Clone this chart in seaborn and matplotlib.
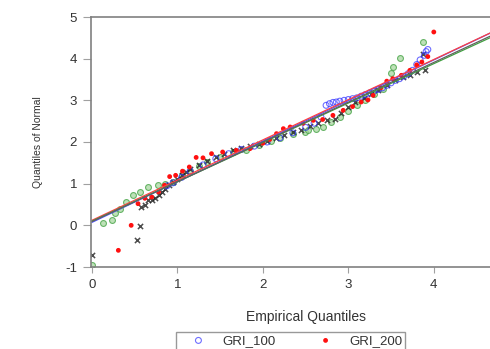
import numpy as np
import pandas as pd
import seaborn as sns
import matplotlib.pyplot as plt

# empirical quantiles (x) and normal quantiles (y)
gri100_x = [0.88, 0.95, 1.05, 1.15, 1.3, 1.45, 1.6, 1.75, 1.9, 2.05, 2.2, 2.35, 2.5, 2.6, 2.68,
            2.74, 2.78, 2.82, 2.86, 2.9, 2.95, 3.0, 3.05, 3.1, 3.15, 3.2, 3.25, 3.3, 3.35, 3.4,
            3.45, 3.5, 3.55, 3.6, 3.65, 3.7, 3.75, 3.8, 3.84, 3.89, 3.91, 3.93]
gri100_y = [0.95, 1.02, 1.15, 1.3, 1.45, 1.6, 1.72, 1.82, 1.9, 2.0, 2.1, 2.22, 2.35, 2.45, 2.6,
            2.88, 2.92, 2.95, 2.96, 2.98, 3.0, 3.02, 3.04, 3.06, 3.1, 3.14, 3.18, 3.22, 3.26, 3.3,
            3.36, 3.42, 3.48, 3.52, 3.58, 3.64, 3.72, 3.86, 3.97, 4.08, 4.17, 4.22]

gri200_x = [0.31, 0.46, 0.54, 0.62, 0.7, 0.78, 0.85, 0.91, 0.98, 1.06, 1.14, 1.22, 1.3, 1.4,
            1.53, 1.69, 1.85, 2.0, 2.08, 2.16, 2.24, 2.32, 2.47, 2.59, 2.7, 2.82, 2.94, 3.05,
            3.15, 3.23, 3.29, 3.38, 3.45, 3.52, 3.62, 3.72, 3.8, 3.86, 3.93, 4.0]
gri200_y = [-0.6, 0.0, 0.52, 0.65, 0.68, 0.8, 0.96, 1.17, 1.2, 1.3, 1.4, 1.63, 1.62, 1.72,
            1.76, 1.8, 1.84, 1.97, 2.06, 2.2, 2.32, 2.36, 2.45, 2.52, 2.54, 2.64, 2.76, 2.85,
            2.96, 3.01, 3.12, 3.3, 3.46, 3.52, 3.6, 3.72, 3.85, 3.92, 4.05, 4.64]

gri300_x = [0.0, 0.125, 0.23, 0.27, 0.33, 0.4, 0.48, 0.56, 0.66, 0.77, 0.85, 0.95, 1.05, 1.15,
            1.25, 1.35, 1.5, 1.65, 1.8, 1.95, 2.1, 2.2, 2.35, 2.49, 2.53, 2.62, 2.7, 2.8, 2.9,
            3.0, 3.1, 3.2, 3.3, 3.4, 3.5, 3.52, 3.6, 3.87]
gri300_y = [-0.95, 0.06, 0.12, 0.3, 0.4, 0.56, 0.72, 0.8, 0.92, 0.96, 1.0, 1.05, 1.2, 1.3,
            1.42, 1.52, 1.65, 1.75, 1.82, 1.92, 2.02, 2.1, 2.2, 2.24, 2.28, 2.32, 2.36, 2.48, 2.6,
            2.75, 2.9, 3.02, 3.15, 3.28, 3.65, 3.8, 4.01, 4.41]

gri400_x = [0.0, 0.53, 0.56, 0.58, 0.62, 0.66, 0.7, 0.74, 0.78, 0.82, 0.86, 0.9, 0.95, 1.0,
            1.05, 1.1, 1.15, 1.25, 1.35, 1.45, 1.55, 1.65, 1.75, 1.85, 1.95, 2.05, 2.15, 2.25,
            2.35, 2.45, 2.55, 2.65, 2.75, 2.84, 2.92, 3.0, 3.08, 3.18, 3.27, 3.35, 3.45, 3.55,
            3.64, 3.72, 3.8, 3.9, 3.87]
gri400_y = [-0.72, -0.34, -0.02, 0.44, 0.5, 0.6, 0.62, 0.66, 0.72, 0.8, 0.88, 0.98, 1.05, 1.12,
            1.2, 1.28, 1.35, 1.45, 1.55, 1.65, 1.72, 1.8, 1.86, 1.9, 1.96, 2.02, 2.1, 2.18,
            2.24, 2.3, 2.38, 2.45, 2.52, 2.55, 2.7, 2.83, 2.95, 3.05, 3.15, 3.24, 3.38, 3.48,
            3.56, 3.62, 3.68, 3.72, 4.12]

# fitted reference lines: intercept, slope
line_names = ['GRI_100', 'GRI_200', 'GRI_300', 'GRI_400']
line_intercept = [0.07, 0.12, 0.1, 0.09]
line_slope = [0.975, 0.965, 0.945, 0.955]
line_colors = ['#5050ff', '#ff4040', '#40a040', '#606060']

sns.set_style('white')
plt.rcParams['font.family'] = ['Liberation Sans', 'DejaVu Sans']
plt.rcParams['axes.unicode_minus'] = False

fig = plt.figure(figsize=(4.9, 3.49), dpi=100)
ax = fig.add_axes([91 / 490, 82 / 349, 430 / 490, 250 / 349])

sns.scatterplot(x=gri300_x, y=gri300_y, ax=ax, marker='o', s=18,
                facecolor='#a8d8a0', edgecolor='#40a040', linewidth=0.8, alpha=0.75)
sns.scatterplot(x=gri400_x, y=gri400_y, ax=ax, marker='x', s=14,
                color='#202020', linewidth=1.1, alpha=0.8)
sns.scatterplot(x=gri100_x, y=gri100_y, ax=ax, marker='o', s=18,
                facecolor='none', edgecolor='#3030ff', linewidth=0.8, alpha=0.7,
                label='GRI_100')
sns.scatterplot(x=gri200_x, y=gri200_y, ax=ax, marker='o', s=12,
                color='#ff1010', edgecolor='none', linewidth=0, label='GRI_200')

xs = [0.0, 5.1]
for name, a, b, c in zip(line_names, line_intercept, line_slope, line_colors):
    sns.lineplot(x=xs, y=[a + b * v for v in xs], ax=ax, color=c, linewidth=0.9)

ax.set_xlim(-0.01, 5.02)
ax.set_ylim(-1, 5)
ax.set_xticks([0, 1, 2, 3, 4])
ax.set_yticks([-1, 0, 1, 2, 3, 4, 5])
for s in ['left', 'bottom', 'top']:
    ax.spines[s].set_color('#808080')
    ax.spines[s].set_linewidth(1.2)
ax.spines['right'].set_visible(False)
ax.tick_params(axis='x', length=4, pad=5, color='#a0a0a0', labelsize=9.5, labelcolor='#333333')
ax.tick_params(axis='y', length=6, pad=4, color='#a0a0a0', labelsize=9.5, labelcolor='#333333')
ax.tick_params(bottom=True, left=True)

ax.set_xlabel('Empirical Quantiles', fontsize=10, color='#333333', labelpad=13)
ax.set_ylabel('Quantiles of Normal', fontsize=7.5, color='#333333', labelpad=16)

handles, labels = ax.get_legend_handles_labels()
ax.legend_.remove()
leg = fig.legend(handles, labels, loc='upper left', bbox_to_anchor=(176 / 490, 1 - 332 / 349),
                 ncol=2, fontsize=9.5, frameon=True, fancybox=False, borderaxespad=0,
                 handlelength=3.0, handletextpad=0.3, columnspacing=2.3, borderpad=0.2,
                 markerscale=1.0)
leg.get_frame().set_edgecolor('#808080')
leg.get_frame().set_linewidth(1.0)
for t in leg.get_texts():
    t.set_color('#333333')

fig.savefig('out.png', dpi=100)
